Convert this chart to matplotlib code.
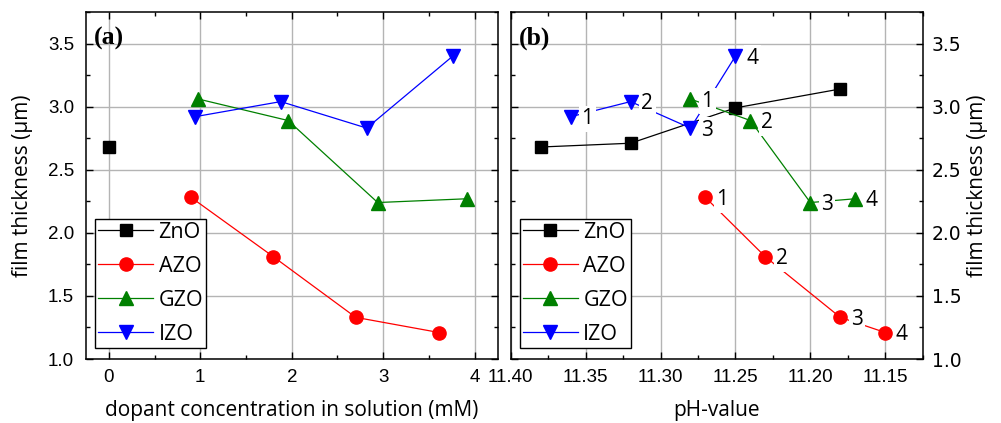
import matplotlib
matplotlib.use("Agg")
import matplotlib.pyplot as plt
from matplotlib.ticker import MultipleLocator, FormatStrFormatter

# ---- data ----
series = ["ZnO", "AZO", "GZO", "IZO"]
colors = ["black", "#ff0000", "#008000", "#0000ff"]
markers = ["s", "o", "^", "v"]
msizes = [8, 9.5, 10, 10]

# (a) dopant concentration (mM)
conc_zno = [0.0]
thick_zno_a = [2.68]
conc_azo = [0.90, 1.80, 2.70, 3.61]
thick_azo = [2.28, 1.81, 1.33, 1.21]
conc_gzo = [0.98, 1.96, 2.94, 3.92]
thick_gzo = [3.06, 2.89, 2.24, 2.27]
conc_izo = [0.94, 1.88, 2.82, 3.76]
thick_izo = [2.92, 3.04, 2.83, 3.40]

# (b) pH-value
ph_zno = [11.38, 11.32, 11.25, 11.18]
thick_zno_b = [2.68, 2.71, 2.99, 3.14]
ph_azo = [11.27, 11.23, 11.18, 11.15]
ph_gzo = [11.28, 11.24, 11.20, 11.17]
ph_izo = [11.36, 11.32, 11.28, 11.25]
point_labels = ["1", "2", "3", "4"]

ax_a_x = [conc_zno, conc_azo, conc_gzo, conc_izo]
ax_a_y = [thick_zno_a, thick_azo, thick_gzo, thick_izo]
ax_b_x = [ph_zno, ph_azo, ph_gzo, ph_izo]
ax_b_y = [thick_zno_b, thick_azo, thick_gzo, thick_izo]

LBL = "Open Sans"
TCK = "Liberation Sans"

W, H = 1001, 423
fig = plt.figure(figsize=(W / 100, H / 100), dpi=100)
bottom = (H - 359) / H
height = (359 - 12) / H
axa = fig.add_axes([86 / W, bottom, (497.5 - 86) / W, height])
axb = fig.add_axes([510.7 / W, bottom, (922.7 - 510.7) / W, height])


def style(ax, ypad):
    ax.grid(True, which="major", color="#b4b4b4", linewidth=1.0, zorder=0)
    ax.set_axisbelow(True)
    ax.set_ylim(1.0, 3.75)
    ax.yaxis.set_major_locator(MultipleLocator(0.5))
    ax.yaxis.set_minor_locator(MultipleLocator(0.25))
    ax.yaxis.set_major_formatter(FormatStrFormatter("%.1f"))
    ax.tick_params(which="both", direction="in", top=True, right=True,
                   left=True, bottom=True, width=1.0)
    ax.tick_params(which="major", length=5, labelsize=13.5)
    ax.tick_params(axis="x", which="major", pad=7.5)
    ax.tick_params(axis="y", which="major", pad=ypad)
    ax.tick_params(which="minor", length=3)
    for lab in ax.get_xticklabels() + ax.get_yticklabels():
        lab.set_fontfamily(TCK)
    for s in ax.spines.values():
        s.set_linewidth(1.1)


def draw(ax, xs, ys):
    for name, c, m, ms, x, y in zip(series, colors, markers, msizes, xs, ys):
        ax.plot(x, y, color=c, marker=m, markersize=ms, linewidth=0.9,
                label=name, zorder=3)
    leg = ax.legend(loc="lower left", bbox_to_anchor=(0.022, 0.032),
                    prop={"family": LBL, "size": 15.5}, frameon=True,
                    fancybox=False, edgecolor="black", framealpha=1,
                    handlelength=2.55, handletextpad=0.25, labelspacing=0.6,
                    borderpad=0.15, borderaxespad=0)
    leg.get_frame().set_linewidth(1.0)
    leg.set_zorder(5)


# ---- panel (a) ----
draw(axa, ax_a_x, ax_a_y)
axa.set_xlim(-0.25, 4.25)
axa.xaxis.set_major_locator(MultipleLocator(1))
axa.xaxis.set_minor_locator(MultipleLocator(0.5))
style(axa, 8.5)
axa.set_xlabel("dopant concentration in solution (mM)", family=LBL,
               fontsize=15, va="center")
axa.xaxis.set_label_coords(0.5, (359 - 410) / 347)
axa.set_ylabel("film thickness (\u00b5m)", family=LBL, fontsize=15,
               va="center")
axa.yaxis.set_label_coords((23 - 86) / 411.5, 0.5)
axa.text(0.02, 0.925, "(a)", transform=axa.transAxes, family="Liberation Serif",
         fontweight="bold", fontsize=18.5, va="center", ha="left", zorder=6)

# ---- panel (b) ----
draw(axb, ax_b_x, ax_b_y)
axb.set_xlim(11.40, 11.125)
axb.xaxis.set_major_locator(MultipleLocator(0.05))
axb.xaxis.set_minor_locator(MultipleLocator(0.025))
axb.xaxis.set_major_formatter(FormatStrFormatter("%.2f"))
style(axb, 6.5)
axb.yaxis.tick_right()
axb.yaxis.set_label_position("right")
axb.tick_params(which="both", left=True, right=True, labelleft=False,
                labelright=True)
axb.set_xlabel("pH-value", family=LBL, fontsize=15, va="center")
axb.xaxis.set_label_coords(0.5, (359 - 410) / 347)
axb.set_ylabel("film thickness (\u00b5m)", family=LBL, fontsize=15,
               va="center", rotation=90)
axb.yaxis.set_label_coords((978 - 510.7) / 412, 0.5)
axb.text(0.02, 0.925, "(b)", transform=axb.transAxes, family="Liberation Serif",
         fontweight="bold", fontsize=18.5, va="center", ha="left", zorder=6)

for x, y in zip(ax_b_x[1:], ax_b_y[1:]):
    for xi, yi, t in zip(x, y, point_labels):
        axb.annotate(t, (xi, yi), xytext=(12, -1.5), textcoords="offset points",
                     ha="center", va="center", family=LBL, fontsize=15,
                     bbox=dict(boxstyle="square,pad=0.12", fc="white",
                               ec="none"), zorder=4)

fig.savefig("out.png", dpi=100)
